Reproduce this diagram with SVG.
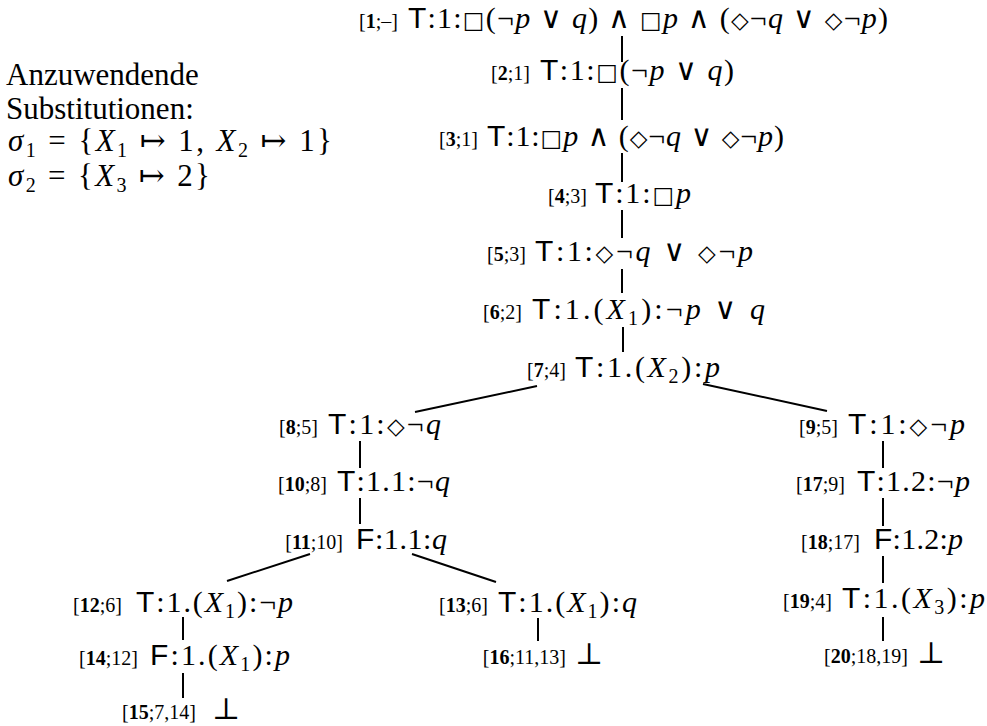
<svg xmlns="http://www.w3.org/2000/svg" width="987" height="726" viewBox="0 0 987 726">
<style>
text{fill:#000}
.t{font-family:"Liberation Serif","DejaVu Serif",serif;font-size:31px}
.f{font-family:"Liberation Serif","DejaVu Serif",serif;font-size:30px}
.s{font-family:"Liberation Sans","DejaVu Sans",sans-serif;font-style:normal}
.i{font-style:italic}
.m{font-family:"DejaVu Sans",sans-serif;font-size:23px}
.sub{font-size:20px}
.l{font-family:"Liberation Serif","DejaVu Serif",serif;font-size:20px;text-anchor:end}
.b{font-weight:bold}
.c line{stroke:#000;stroke-width:2}
</style>
<rect width="987" height="726" fill="#fff"/>
<g id="legend">
<text class="t" x="6" y="85">Anzuwendende</text>
<text class="t" x="6" y="119">Substitutionen:</text>
<text class="t" x="8" y="151" textLength="324" lengthAdjust="spacing"><tspan class="i">σ</tspan><tspan class="sub" dy="6">1</tspan><tspan dy="-6"> = {</tspan><tspan class="i">X</tspan><tspan class="sub" dy="6">1</tspan><tspan dy="-6"> ↦ 1, </tspan><tspan class="i">X</tspan><tspan class="sub" dy="6">2</tspan><tspan dy="-6"> ↦ 1}</tspan></text>
<text class="t" x="8" y="186" textLength="202" lengthAdjust="spacing"><tspan class="i">σ</tspan><tspan class="sub" dy="6">2</tspan><tspan dy="-6"> = {</tspan><tspan class="i">X</tspan><tspan class="sub" dy="6">3</tspan><tspan dy="-6"> ↦ 2}</tspan></text>
</g>
<g class="c" id="connectors">
<line x1="622" y1="36" x2="622" y2="62"/>
<line x1="622" y1="88" x2="622" y2="120"/>
<line x1="622" y1="153" x2="622" y2="182"/>
<line x1="622" y1="210" x2="622" y2="238"/>
<line x1="622" y1="269" x2="622" y2="293"/>
<line x1="623" y1="327" x2="623" y2="352"/>
<line x1="537" y1="386" x2="415" y2="412"/>
<line x1="703" y1="384" x2="827" y2="411"/>
<line x1="360" y1="441" x2="360" y2="468"/>
<line x1="360" y1="498" x2="360" y2="524"/>
<line x1="310" y1="554" x2="227" y2="581"/>
<line x1="412" y1="554" x2="496" y2="582"/>
<line x1="183" y1="617" x2="183" y2="640"/>
<line x1="183" y1="673" x2="183" y2="698"/>
<line x1="538" y1="618" x2="538" y2="641"/>
<line x1="883" y1="441" x2="883" y2="468"/>
<line x1="883" y1="498" x2="883" y2="526"/>
<line x1="883" y1="556" x2="883" y2="583"/>
<line x1="883" y1="617" x2="883" y2="641"/>
</g>
<g id="n1">
<text class="l" x="398" y="28">[<tspan class="b">1</tspan>;–]</text>
<text class="f" x="408" y="28" textLength="480" lengthAdjust="spacing"><tspan class="s">T</tspan>:1:<tspan class="m">□</tspan>(¬<tspan class="i">p</tspan> ∨ <tspan class="i">q</tspan>) ∧ <tspan class="m">□</tspan><tspan class="i">p</tspan> ∧ (<tspan class="m">◇</tspan>¬<tspan class="i">q</tspan> ∨ <tspan class="m">◇</tspan>¬<tspan class="i">p</tspan>)</text>
</g>
<g id="n2">
<text class="l" x="530" y="80">[<tspan class="b">2</tspan>;1]</text>
<text class="f" x="540" y="80" textLength="194" lengthAdjust="spacing"><tspan class="s">T</tspan>:1:<tspan class="m">□</tspan>(¬<tspan class="i">p</tspan> ∨ <tspan class="i">q</tspan>)</text>
</g>
<g id="n3">
<text class="l" x="478" y="146">[<tspan class="b">3</tspan>;1]</text>
<text class="f" x="487" y="146" textLength="297" lengthAdjust="spacing"><tspan class="s">T</tspan>:1:<tspan class="m">□</tspan><tspan class="i">p</tspan> ∧ (<tspan class="m">◇</tspan>¬<tspan class="i">q</tspan> ∨ <tspan class="m">◇</tspan>¬<tspan class="i">p</tspan>)</text>
</g>
<g id="n4">
<text class="l" x="587" y="203">[<tspan class="b">4</tspan>;3]</text>
<text class="f" x="595" y="203" textLength="96" lengthAdjust="spacing"><tspan class="s">T</tspan>:1:<tspan class="m">□</tspan><tspan class="i">p</tspan></text>
</g>
<g id="n5">
<text class="l" x="526" y="261">[<tspan class="b">5</tspan>;3]</text>
<text class="f" x="535" y="261" textLength="218" lengthAdjust="spacing"><tspan class="s">T</tspan>:1:<tspan class="m">◇</tspan>¬<tspan class="i">q</tspan> ∨ <tspan class="m">◇</tspan>¬<tspan class="i">p</tspan></text>
</g>
<g id="n6">
<text class="l" x="522" y="319">[<tspan class="b">6</tspan>;2]</text>
<text class="f" x="532" y="319" textLength="233" lengthAdjust="spacing"><tspan class="s">T</tspan>:1.(<tspan class="i">X</tspan><tspan class="sub" dy="6">1</tspan><tspan dy="-6">):¬</tspan><tspan class="i">p</tspan> ∨ <tspan class="i">q</tspan></text>
</g>
<g id="n7">
<text class="l" x="566" y="377">[<tspan class="b">7</tspan>;4]</text>
<text class="f" x="575" y="377" textLength="145" lengthAdjust="spacing"><tspan class="s">T</tspan>:1.(<tspan class="i">X</tspan><tspan class="sub" dy="6">2</tspan><tspan dy="-6">):</tspan><tspan class="i">p</tspan></text>
</g>
<g id="n8">
<text class="l" x="318" y="434">[<tspan class="b">8</tspan>;5]</text>
<text class="f" x="328" y="434" textLength="113" lengthAdjust="spacing"><tspan class="s">T</tspan>:1:<tspan class="m">◇</tspan>¬<tspan class="i">q</tspan></text>
</g>
<g id="n9">
<text class="l" x="838" y="434">[<tspan class="b">9</tspan>;5]</text>
<text class="f" x="848" y="434" textLength="117" lengthAdjust="spacing"><tspan class="s">T</tspan>:1:<tspan class="m">◇</tspan>¬<tspan class="i">p</tspan></text>
</g>
<g id="n10">
<text class="l" x="327" y="491">[<tspan class="b">10</tspan>;8]</text>
<text class="f" x="337" y="491" textLength="113" lengthAdjust="spacing"><tspan class="s">T</tspan>:1.1:¬<tspan class="i">q</tspan></text>
</g>
<g id="n11">
<text class="l" x="343" y="549">[<tspan class="b">11</tspan>;10]</text>
<text class="f" x="356" y="549" textLength="91" lengthAdjust="spacing"><tspan class="s">F</tspan>:1.1:<tspan class="i">q</tspan></text>
</g>
<g id="n12">
<text class="l" x="122" y="612">[<tspan class="b">12</tspan>;6]</text>
<text class="f" x="136" y="612" textLength="157" lengthAdjust="spacing"><tspan class="s">T</tspan>:1.(<tspan class="i">X</tspan><tspan class="sub" dy="6">1</tspan><tspan dy="-6">):¬</tspan><tspan class="i">p</tspan></text>
</g>
<g id="n13">
<text class="l" x="488" y="612">[<tspan class="b">13</tspan>;6]</text>
<text class="f" x="498" y="612" textLength="139" lengthAdjust="spacing"><tspan class="s">T</tspan>:1.(<tspan class="i">X</tspan><tspan class="sub" dy="6">1</tspan><tspan dy="-6">):</tspan><tspan class="i">q</tspan></text>
</g>
<g id="n14">
<text class="l" x="138" y="665">[<tspan class="b">14</tspan>;12]</text>
<text class="f" x="150" y="665" textLength="140" lengthAdjust="spacing"><tspan class="s">F</tspan>:1.(<tspan class="i">X</tspan><tspan class="sub" dy="6">1</tspan><tspan dy="-6">):</tspan><tspan class="i">p</tspan></text>
</g>
<g id="n15">
<text class="l" x="196" y="719">[<tspan class="b">15</tspan>;7,14]</text>
<text class="f" x="212" y="719">⊥</text>
</g>
<g id="n16">
<text class="l" x="566" y="664">[<tspan class="b">16</tspan>;11,13]</text>
<text class="f" x="575" y="664">⊥</text>
</g>
<g id="n17">
<text class="l" x="845" y="491">[<tspan class="b">17</tspan>;9]</text>
<text class="f" x="857" y="491" textLength="113" lengthAdjust="spacing"><tspan class="s">T</tspan>:1.2:¬<tspan class="i">p</tspan></text>
</g>
<g id="n18">
<text class="l" x="860" y="549">[<tspan class="b">18</tspan>;17]</text>
<text class="f" x="874" y="549" textLength="89" lengthAdjust="spacing"><tspan class="s">F</tspan>:1.2:<tspan class="i">p</tspan></text>
</g>
<g id="n19">
<text class="l" x="832" y="608">[<tspan class="b">19</tspan>;4]</text>
<text class="f" x="842" y="608" textLength="143" lengthAdjust="spacing"><tspan class="s">T</tspan>:1.(<tspan class="i">X</tspan><tspan class="sub" dy="6">3</tspan><tspan dy="-6">):</tspan><tspan class="i">p</tspan></text>
</g>
<g id="n20">
<text class="l" x="908" y="663">[<tspan class="b">20</tspan>;18,19]</text>
<text class="f" x="917" y="663">⊥</text>
</g>
</svg>
